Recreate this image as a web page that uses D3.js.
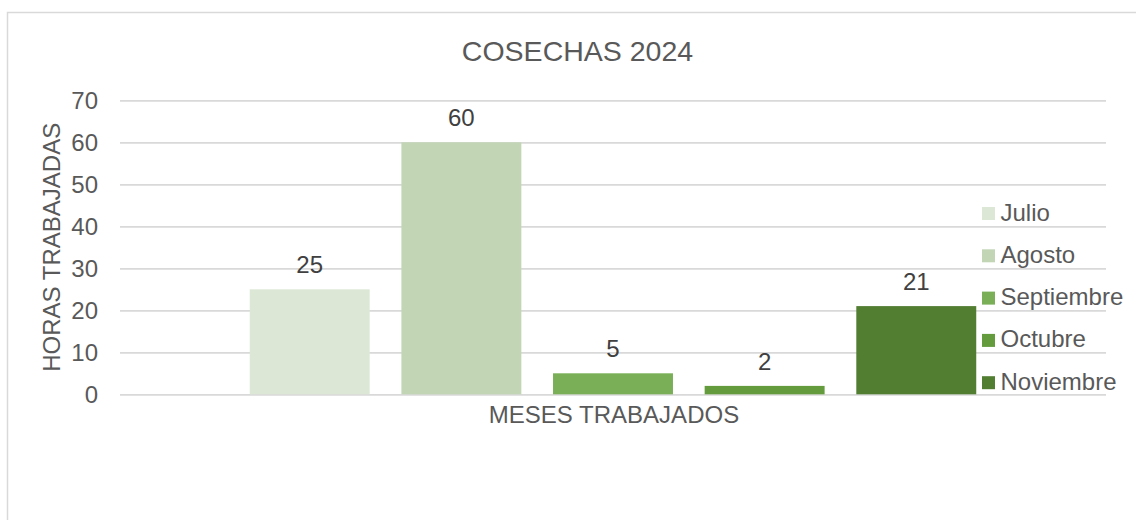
<!DOCTYPE html>
<html lang="es">
<head>
<meta charset="UTF-8">
<title>COSECHAS 2024</title>
<script src="https://d3js.org/d3.v7.min.js"></script>
<style>
  body { margin: 0; background: #fff; }
  text { font-family: "Liberation Sans", Arial, sans-serif; }
</style>
</head>
<body>
<script>
// data
const category = "MESES TRABAJADOS";
const months = ["Julio", "Agosto", "Septiembre", "Octubre", "Noviembre"];
const hours = [25, 60, 5, 2, 21];
const colors = ["#dde7d6", "#c2d6b6", "#7aaf57", "#639b3d", "#527e32"];
const yTicks = [0, 10, 20, 30, 40, 50, 60, 70];

const width = 1136, height = 520;
const fs = 24;
const svg = d3.select("body").append("svg")
    .attr("width", width)
    .attr("height", height);

// chart area border (runs off the right and bottom edge)
svg.append("rect")
    .attr("x", 7.5).attr("y", 12.5)
    .attr("width", 1200).attr("height", 600)
    .attr("fill", "none")
    .attr("stroke", "#d9d9d9")
    .attr("stroke-width", 1.5);

const plot = { left: 120, right: 1106, top: 100.3, bottom: 394.3 };

const y = d3.scaleLinear().domain([0, 70]).range([plot.bottom, plot.top]);
const x0 = d3.scaleBand().domain([category])
    .range([plot.left, plot.right]).paddingOuter(0.1786);
const x1 = d3.scaleBand().domain(months)
    .range([0, x0.bandwidth()]).paddingInner(0.209).paddingOuter(0);
const color = d3.scaleOrdinal().domain(months).range(colors);

// gridlines
const yAxis = d3.axisLeft(y).tickValues(yTicks)
    .tickSize(-(plot.right - plot.left)).tickPadding(22);
const gy = svg.append("g")
    .attr("transform", `translate(${plot.left},0)`)
    .call(yAxis);
gy.select(".domain").remove();
gy.selectAll(".tick line").attr("stroke", "#d9d9d9").attr("stroke-width", 1.8);
gy.selectAll(".tick text")
    .attr("fill", "#595959")
    .attr("font-size", fs)
    .attr("dy", "0.36em");

// bars
const g = svg.append("g").attr("transform", `translate(${x0(category)},0)`);
const rows = months.map((m, i) => ({ month: m, value: hours[i] }));
g.selectAll("rect.bar")
    .data(rows)
    .join("rect")
    .attr("class", "bar")
    .attr("x", d => x1(d.month))
    .attr("y", d => y(d.value))
    .attr("width", x1.bandwidth())
    .attr("height", d => y(0) - y(d.value))
    .attr("fill", d => color(d.month));

// data labels
g.selectAll("text.lbl")
    .data(rows)
    .join("text")
    .attr("class", "lbl")
    .attr("x", d => x1(d.month) + x1.bandwidth() / 2)
    .attr("y", d => y(d.value) - 16)
    .attr("text-anchor", "middle")
    .attr("font-size", fs)
    .attr("fill", "#404040")
    .text(d => d.value);

// axis titles
svg.append("text")
    .attr("x", x0(category) + x0.bandwidth() / 2 + 1)
    .attr("y", 422.5)
    .attr("text-anchor", "middle")
    .attr("font-size", fs)
    .attr("fill", "#595959")
    .text(category);

svg.append("text")
    .attr("transform", `translate(59.5,${(plot.top + plot.bottom) / 2}) rotate(-90)`)
    .attr("text-anchor", "middle")
    .attr("font-size", fs)
    .attr("fill", "#595959")
    .text("HORAS TRABAJADAS");

// title
svg.append("text")
    .attr("x", 577.5)
    .attr("y", 60.5)
    .attr("text-anchor", "middle")
    .attr("font-size", 28.5)
    .attr("fill", "#595959")
    .text("COSECHAS 2024");

// legend
const legend = svg.append("g").attr("transform", "translate(982,207)");
const item = legend.selectAll("g")
    .data(months)
    .join("g")
    .attr("transform", (d, i) => `translate(0,${i * 42.3})`);
item.append("rect")
    .attr("width", 13).attr("height", 13)
    .attr("fill", d => color(d));
item.append("text")
    .attr("x", 18.5).attr("y", 13.5)
    .attr("font-size", fs)
    .attr("fill", "#595959")
    .text(d => d);
</script>
</body>
</html>
